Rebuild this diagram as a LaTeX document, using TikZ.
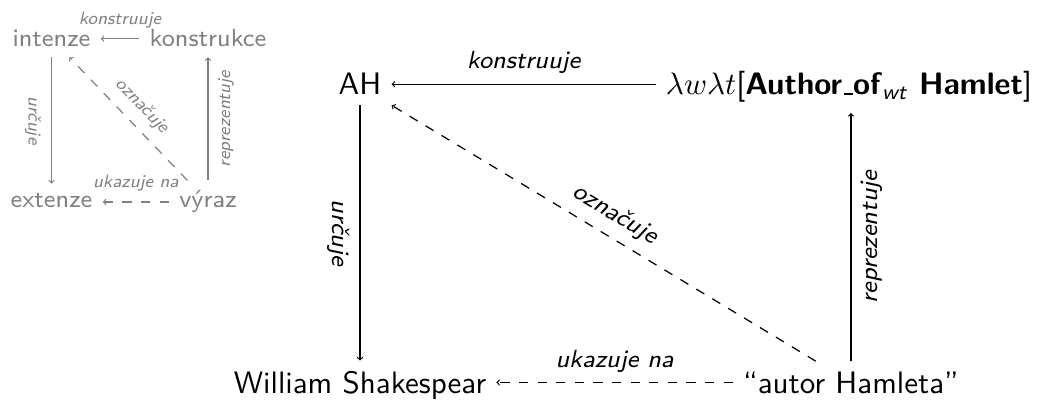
\documentclass[tikz,border=0pt]{standalone}
\renewcommand{\familydefault}{\sfdefault}
\definecolor{sgray}{gray}{0.5}
\newcommand{\lowbar}{\leavevmode\kern.06em\vbox{\hrule width.3em height.5pt}}
\begin{document}
\begin{tikzpicture}[x=0.32258pt,y=-0.32258pt,scale=3.1,
  every node/.style={transform shape, inner sep=3.333pt, outer sep=0pt},
  big/.style={font=\fontsize{10}{12}\selectfont, anchor=base},
  biglab/.style={font=\fontsize{8}{9.6}\selectfont\itshape, sloped, midway},
  small/.style={font=\fontsize{8}{9.6}\selectfont, anchor=base, text=sgray},
  smalllab/.style={font=\fontsize{5.8}{7}\selectfont\itshape, sloped, midway, text=sgray},
  conn/.style={->, line width=1.24pt},
  sconn/.style={->, line width=1.24pt, draw=sgray},
  dashline/.style={dash pattern=on 9.3pt off 9.3pt}]
\useasboundingbox (0,0) rectangle (1040,400);
% small diagram
\node[small] (intenze) at (51.5,46.7) {intenze};
\node[small] (konstrukce) at (208,46.7) {konstrukce};
\node[small] (extenze) at (51.5,208) {extenze};
\node[small] (vyraz) at (208,208) {výraz};
\draw[sconn] (konstrukce.west |- intenze.east) -- node[smalllab,above]{konstruuje} (intenze.east);
\draw[sconn] (intenze.south) -- node[smalllab,below]{určuje} (extenze.north);
\draw[sconn] (vyraz.north) -- node[smalllab,below]{reprezentuje} (vyraz.north |- konstrukce.south);
\draw[sconn,dashline] (vyraz.west) -- node[smalllab,above]{ukazuje na} (vyraz.west -| extenze.east);
\draw[sconn,dashline] (vyraz) -- node[smalllab,above]{označuje} (intenze);
% big diagram
\node[big] (AH) at (360,95) {AH};
\node[big] (lam) at (849,95) {$\lambda w\lambda t$[\textbf{Author\lowbar of}\textsubscript{\textit{wt}} \textbf{Hamlet}]};
\node[big] (WS) at (360,393) {William Shakespear};
\node[big] (aut) at (851,393) {“autor Hamleta”};
\draw[conn] (lam.west |- AH.east) -- node[biglab,above]{konstruuje} (AH.east);
\draw[conn] (AH.south) -- node[biglab,below]{určuje} (WS.north);
\draw[conn] (aut.north) -- node[biglab,below]{reprezentuje} (aut.north |- lam.south);
\draw[conn,dashline] (aut.west) -- node[biglab,above]{ukazuje na} (aut.west -| WS.east);
\draw[conn,dashline] (aut) -- node[biglab,above]{označuje} (AH.south east);
\end{tikzpicture}
\end{document}
